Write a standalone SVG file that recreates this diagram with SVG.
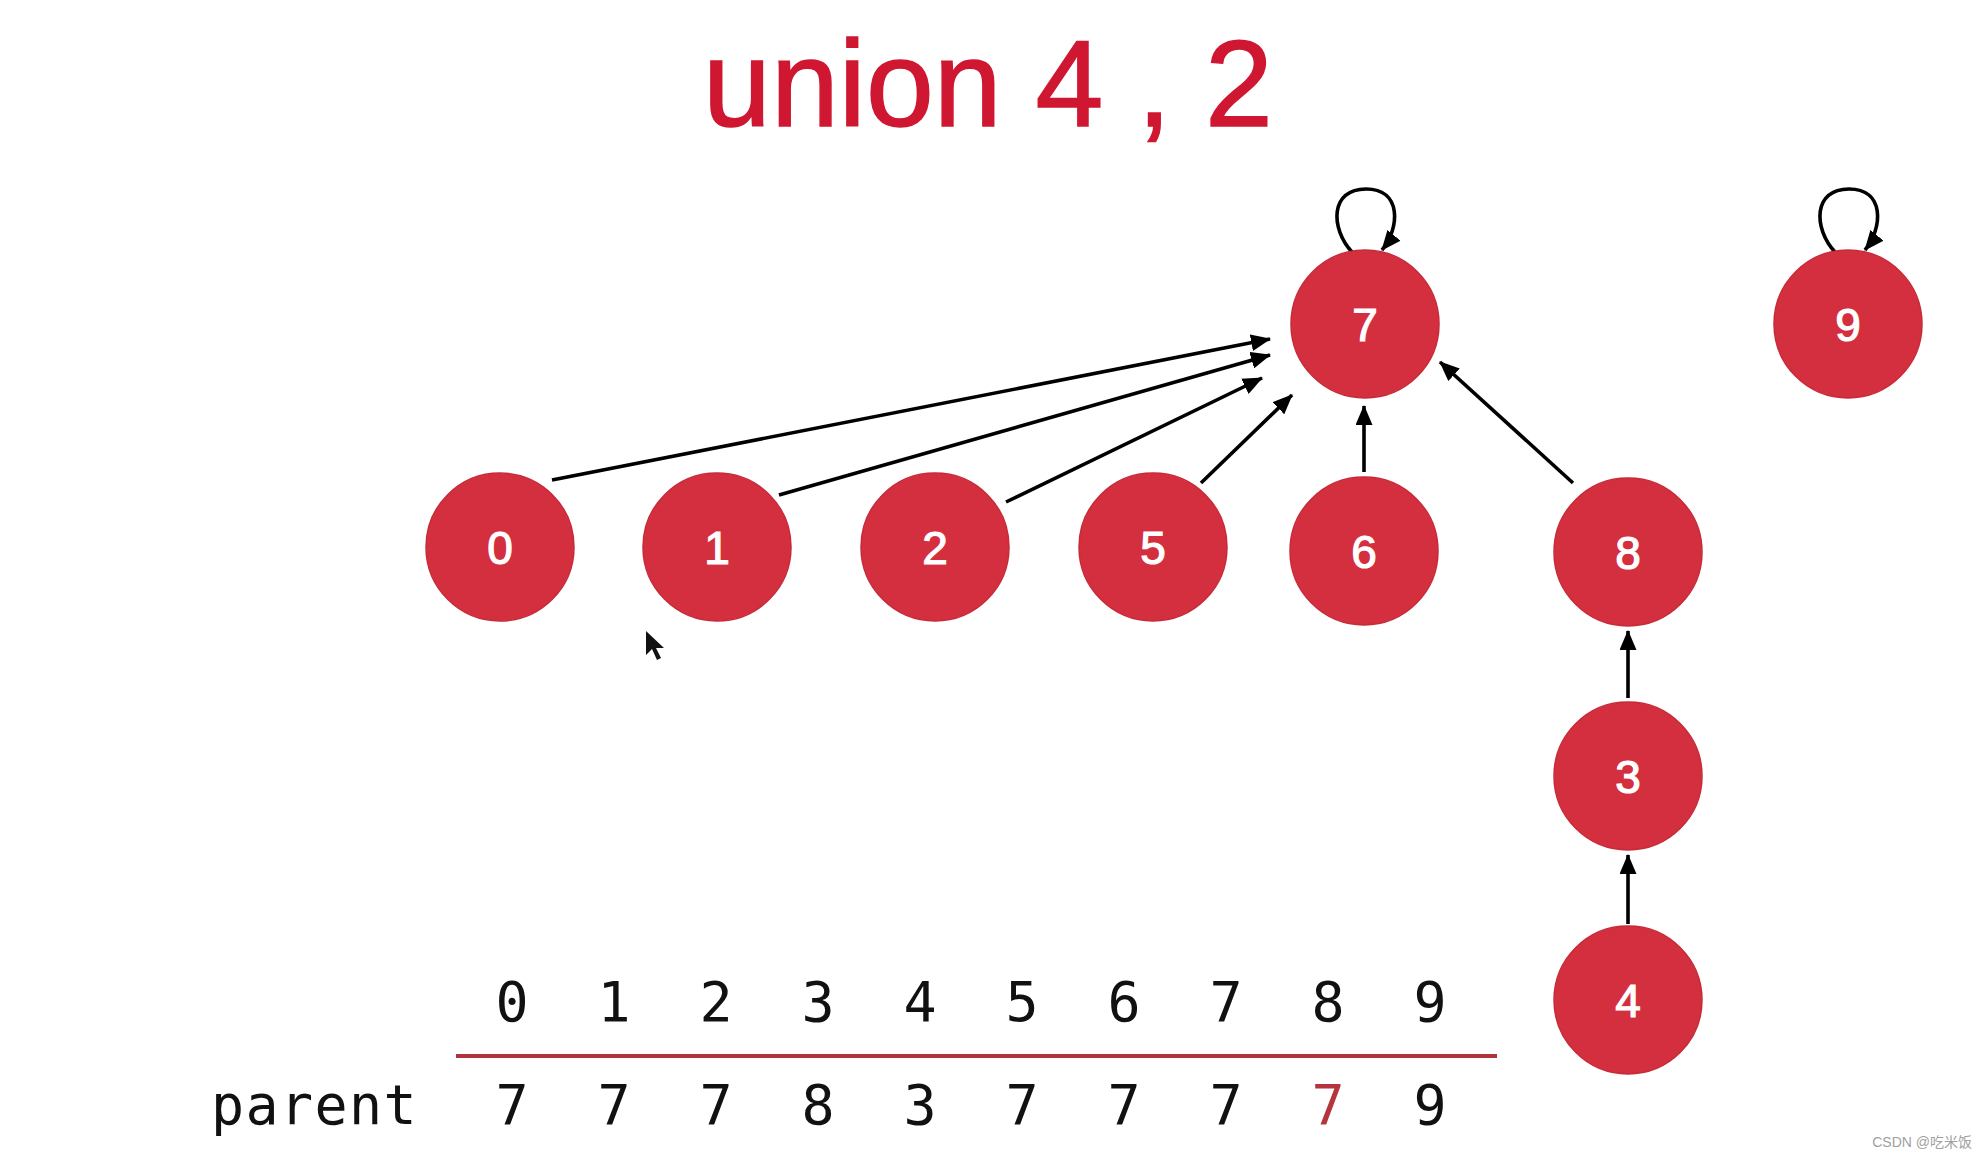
<svg xmlns="http://www.w3.org/2000/svg" width="1986" height="1159" viewBox="0 0 1986 1159">
  <style>
    .node circle { fill: #d42f3e; stroke: #c72a39; stroke-width: 1.5; }
    .node text { fill: #ffffff; stroke: #ffffff; stroke-width: 1.2; font-family: "Liberation Sans", Arial, sans-serif; font-size: 46px; text-anchor: middle; }
    .edge { stroke: #000; stroke-width: 3.6; fill: none; marker-end: url(#arrow); }
    .idx { font-family: "DejaVu Sans Mono", "Liberation Mono", monospace; font-size: 55px; fill: #111; text-anchor: middle; }
  </style>
  <defs>
    <marker id="arrow" viewBox="0 0 20 17" refX="19" refY="8.5" markerWidth="20" markerHeight="17" markerUnits="userSpaceOnUse" orient="auto">
      <path d="M0,0 L20,8.5 L0,17 z" fill="#000"/>
    </marker>
  </defs>
  <rect width="1986" height="1159" fill="#ffffff"/>

  <text x="988" y="126" font-family="Liberation Sans, Arial, sans-serif" font-size="122" fill="#cf1731" stroke="#cf1731" stroke-width="1.5" text-anchor="middle">union 4 , 2</text>

  <g id="connectors">
    <line class="edge" x1="552" y1="480" x2="1270" y2="339"/>
    <line class="edge" x1="779" y1="495" x2="1270" y2="355"/>
    <line class="edge" x1="1006" y1="502" x2="1262" y2="378"/>
    <line class="edge" x1="1201" y1="483" x2="1292" y2="395"/>
    <line class="edge" x1="1364" y1="472" x2="1364" y2="406"/>
    <line class="edge" x1="1573" y1="483" x2="1440" y2="362"/>
    <line class="edge" x1="1628" y1="698" x2="1628" y2="631"/>
    <line class="edge" x1="1628" y1="924" x2="1628" y2="855"/>
    <path class="edge" d="M1352,252 C1330,228 1330,189 1366,189 C1402,189 1400,228 1382,250"/>
    <path class="edge" d="M1835,252 C1813,228 1813,189 1849,189 C1885,189 1883,228 1865,250"/>
  </g>

  <g id="node-7" class="node"><circle cx="1365" cy="324" r="74"/><text x="1365" y="341">7</text></g>
  <g id="node-9" class="node"><circle cx="1848" cy="324" r="74"/><text x="1848" y="341">9</text></g>
  <g id="node-0" class="node"><circle cx="500" cy="547" r="74"/><text x="500" y="564">0</text></g>
  <g id="node-1" class="node"><circle cx="717" cy="547" r="74"/><text x="717" y="564">1</text></g>
  <g id="node-2" class="node"><circle cx="935" cy="547" r="74"/><text x="935" y="564">2</text></g>
  <g id="node-5" class="node"><circle cx="1153" cy="547" r="74"/><text x="1153" y="564">5</text></g>
  <g id="node-6" class="node"><circle cx="1364" cy="551" r="74"/><text x="1364" y="568">6</text></g>
  <g id="node-8" class="node"><circle cx="1628" cy="552" r="74"/><text x="1628" y="569">8</text></g>
  <g id="node-3" class="node"><circle cx="1628" cy="776" r="74"/><text x="1628" y="793">3</text></g>
  <g id="node-4" class="node"><circle cx="1628" cy="1000" r="74"/><text x="1628" y="1017">4</text></g>

  <path d="M646,631 L646,655 L652,649 L657,660 L661,658 L656,648 L664,648 z" fill="#111"/>

  <g id="table">
    <text class="idx" x="512" y="1021">0</text>
    <text class="idx" x="614" y="1021">1</text>
    <text class="idx" x="716" y="1021">2</text>
    <text class="idx" x="818" y="1021">3</text>
    <text class="idx" x="920" y="1021">4</text>
    <text class="idx" x="1022" y="1021">5</text>
    <text class="idx" x="1124" y="1021">6</text>
    <text class="idx" x="1226" y="1021">7</text>
    <text class="idx" x="1328" y="1021">8</text>
    <text class="idx" x="1430" y="1021">9</text>
    <line x1="456" y1="1056" x2="1497" y2="1056" stroke="#b3333d" stroke-width="4"/>
    <text class="idx" x="211" y="1124" letter-spacing="1.4" style="text-anchor:start">parent</text>
    <text class="idx" x="512" y="1124">7</text>
    <text class="idx" x="614" y="1124">7</text>
    <text class="idx" x="716" y="1124">7</text>
    <text class="idx" x="818" y="1124">8</text>
    <text class="idx" x="920" y="1124">3</text>
    <text class="idx" x="1022" y="1124">7</text>
    <text class="idx" x="1124" y="1124">7</text>
    <text class="idx" x="1226" y="1124">7</text>
    <text class="idx" x="1328" y="1124" style="fill:#b4353f">7</text>
    <text class="idx" x="1430" y="1124">9</text>
  </g>

  <text x="1972" y="1147" font-family="Liberation Sans, Noto Sans CJK SC, sans-serif" font-size="14" fill="#a0a0a0" text-anchor="end">CSDN @吃米饭</text>
</svg>
